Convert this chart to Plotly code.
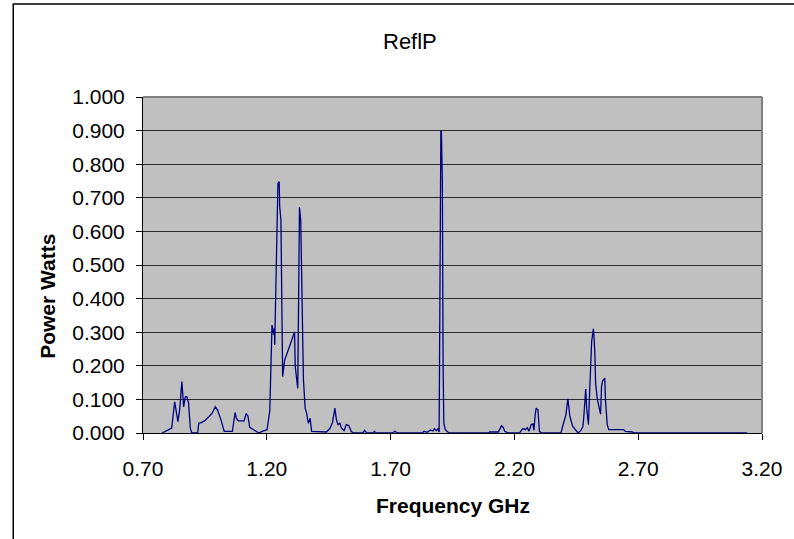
import plotly.graph_objects as go

freq_ghz = [
    0.777, 0.800, 0.816, 0.828, 0.841, 0.848, 0.857, 0.864, 0.871, 0.877, 0.884, 0.891, 0.897,
    0.921, 0.925, 0.935, 0.948, 0.968, 0.979, 0.992, 1.001, 1.015, 1.028, 1.061, 1.072, 1.077,
    1.085, 1.108, 1.117, 1.124, 1.131, 1.148, 1.168, 1.181, 1.201, 1.212, 1.219, 1.221, 1.228,
    1.231, 1.232, 1.235, 1.241, 1.245, 1.250, 1.252, 1.257, 1.261, 1.264, 1.272, 1.285, 1.301,
    1.312, 1.315, 1.325, 1.328, 1.332, 1.337, 1.341, 1.348, 1.355, 1.361, 1.364, 1.368, 1.375,
    1.381, 1.441, 1.455, 1.465, 1.475, 1.481, 1.488, 1.495, 1.501, 1.512, 1.521, 1.531, 1.541,
    1.548, 1.588, 1.595, 1.604, 1.628, 1.635, 1.641, 1.708, 1.717, 1.728, 1.828, 1.835, 1.848,
    1.861, 1.871, 1.877, 1.884, 1.891, 1.896, 1.899, 1.901, 1.903, 1.905, 1.909, 1.912, 1.915,
    1.921, 1.935, 2.095, 2.100, 2.135, 2.141, 2.148, 2.155, 2.161, 2.175, 2.221, 2.228, 2.235,
    2.245, 2.252, 2.259, 2.264, 2.268, 2.275, 2.279, 2.284, 2.288, 2.295, 2.301, 2.308, 2.388,
    2.395, 2.401, 2.408, 2.416, 2.424, 2.435, 2.448, 2.457, 2.468, 2.477, 2.481, 2.485, 2.488,
    2.492, 2.499, 2.504, 2.508, 2.512, 2.519, 2.521, 2.525, 2.528, 2.535, 2.541, 2.548, 2.552,
    2.557, 2.565, 2.568, 2.575, 2.581, 2.641, 2.648, 2.675, 2.688, 3.140,
]

power_watts = [
    0.000, 0.008, 0.015, 0.093, 0.034, 0.068, 0.153, 0.078, 0.108, 0.108, 0.090, 0.015, 0.000,
    0.000, 0.029, 0.031, 0.036, 0.050, 0.059, 0.078, 0.068, 0.039, 0.005, 0.005, 0.061, 0.044,
    0.036, 0.036, 0.058, 0.050, 0.017, 0.009, 0.000, 0.005, 0.010, 0.065, 0.217, 0.321, 0.292,
    0.312, 0.262, 0.406, 0.634, 0.743, 0.748, 0.674, 0.634, 0.267, 0.168, 0.217, 0.247, 0.277,
    0.301, 0.197, 0.133, 0.406, 0.672, 0.634, 0.435, 0.158, 0.073, 0.059, 0.044, 0.029, 0.044,
    0.005, 0.003, 0.014, 0.030, 0.074, 0.040, 0.024, 0.030, 0.015, 0.007, 0.025, 0.022, 0.005,
    0.000, 0.000, 0.008, 0.000, 0.000, 0.005, 0.000, 0.000, 0.005, 0.000, 0.000, 0.005, 0.002,
    0.009, 0.006, 0.013, 0.007, 0.012, 0.003, 0.515, 0.634, 0.898, 0.898, 0.753, 0.207, 0.029,
    0.010, 0.000, 0.000, 0.003, 0.003, 0.010, 0.022, 0.016, 0.005, 0.000, 0.000, 0.008, 0.013,
    0.010, 0.016, 0.005, 0.020, 0.025, 0.027, 0.008, 0.055, 0.074, 0.069, 0.005, 0.000, 0.000,
    0.020, 0.035, 0.054, 0.102, 0.050, 0.020, 0.009, 0.000, 0.007, 0.020, 0.055, 0.114, 0.131,
    0.074, 0.025, 0.124, 0.223, 0.272, 0.310, 0.296, 0.236, 0.146, 0.101, 0.081, 0.056, 0.140,
    0.156, 0.163, 0.095, 0.025, 0.010, 0.010, 0.005, 0.003, 0.000, 0.000,
]

x_ticks = [0.70, 1.20, 1.70, 2.20, 2.70, 3.20]
y_ticks = [0.0, 0.1, 0.2, 0.3, 0.4, 0.5, 0.6, 0.7, 0.8, 0.9, 1.0]

FONT = "Liberation Sans, Arial, sans-serif"

fig = go.Figure()
fig.add_trace(go.Scatter(
    x=freq_ghz, y=power_watts, mode="lines",
    line=dict(color="#000080", width=1.3),
    showlegend=False, hoverinfo="skip",
))

fig.update_layout(
    width=794, height=539,
    margin=dict(l=143, r=26, t=97, b=106),
    paper_bgcolor="white",
    plot_bgcolor="#C0C0C0",
    font=dict(family=FONT, size=21, color="black"),
    xaxis=dict(
        range=[0.70, 3.20], tickvals=x_ticks, ticktext=[f"{v:.2f}" for v in x_ticks],
        showgrid=False, zeroline=False, showline=True, linecolor="black", linewidth=1,
        ticks="outside", ticklen=6, tickcolor="black", ticklabelstandoff=11,
        tickfont=dict(size=21),
    ),
    yaxis=dict(
        range=[0, 1.0], tickvals=y_ticks, ticktext=[f"{v:.3f}" for v in y_ticks],
        showgrid=True, gridcolor="#2a2a2a", gridwidth=1, zeroline=False,
        showline=True, linecolor="black", linewidth=1,
        ticks="outside", ticklen=6, tickcolor="black", ticklabelstandoff=7,
        tickfont=dict(size=21),
    ),
    shapes=[
        dict(type="line", xref="paper", yref="paper", x0=0, x1=1, y0=1, y1=1,
             line=dict(color="#808080", width=2), layer="above"),
        dict(type="line", xref="paper", yref="paper", x0=1, x1=1, y0=0, y1=1,
             line=dict(color="#808080", width=2), layer="above"),
        dict(type="rect", xref="paper", yref="paper", x0=-0.2096, x1=1.2, y0=-0.5, y1=1.2768,
             line=dict(color="black", width=1.5), fillcolor="rgba(0,0,0,0)", layer="below"),
    ],
    annotations=[
        dict(text="ReflP", xref="paper", yref="paper", x=0.432, y=1.164, showarrow=False,
             xanchor="center", yanchor="middle", font=dict(size=22)),
        dict(text="<b>Power Watts</b>", xref="paper", yref="paper", x=-0.1536, y=0.408,
             textangle=-90, showarrow=False, xanchor="center", yanchor="middle",
             font=dict(size=21)),
        dict(text="<b>Frequency GHz</b>", xref="paper", yref="paper", x=0.5, y=-0.217,
             showarrow=False, xanchor="center", yanchor="middle", font=dict(size=21)),
    ],
)

fig.write_html("out.html")
